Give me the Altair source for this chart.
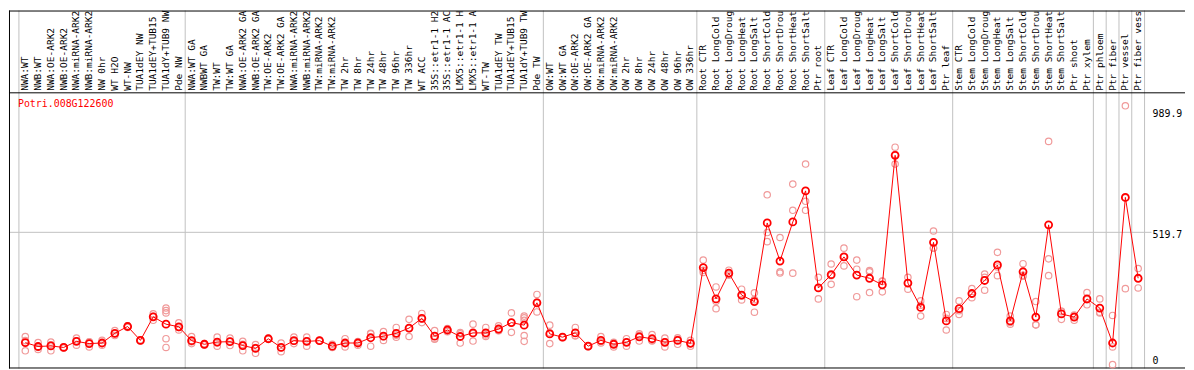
import altair as alt
import pandas as pd

gene = "Potri.008G122600"

labels = [
    "NWA:WT", "NWB:WT", "NWA:OE-ARK2", "NWB:OE-ARK2", "NWA:miRNA-ARK2", "NWB:miRNA-ARK2",
    "NW 0hr", "WT H2O", "WT-NW", "TUA1dEY NW", "TUA1dEY+TUB15", "TUA1dY+TUB9 NW", "Pde NW",
    "NWA:WT GA", "NWBWT GA", "TW:WT", "TW:WT GA", "NWA:OE-ARK2 GA", "NWB:OE-ARK2 GA",
    "TW:OE-ARK2", "TW:OE-ARK2 GA", "NWA:miRNA-ARK2", "NWB:miRNA-ARK2", "TW:miRNA-ARK2",
    "TW:miRNA-ARK2", "TW 2hr", "TW 8hr", "TW 24hr", "TW 48hr", "TW 96hr", "TW 336hr", "WT ACC",
    "35S::etr1-1 H2", "35S::etr1-1 AC", "LMX5::etr1-1 H", "LMX5::etr1-1 A", "WT-TW",
    "TUA1dEY TW", "TUA1dEY+TUB15", "TUA1dY+TUB9 TW", "Pde TW",
    "OW:WT", "OW:WT GA", "OW:OE-ARK2", "OW:OE-ARK2 GA", "OW:miRNA-ARK2", "OW:miRNA-ARK2",
    "OW 2hr", "OW 8hr", "OW 24hr", "OW 48hr", "OW 96hr", "OW 336hr",
    "Root CTR", "Root LongCold", "Root LongDroug", "Root LongHeat", "Root LongSalt",
    "Root ShortCold", "Root ShortDrou", "Root ShortHeat", "Root ShortSalt", "Ptr root",
    "Leaf CTR", "Leaf LongCold", "Leaf LongDroug", "Leaf LongHeat", "Leaf LongSalt",
    "Leaf ShortCold", "Leaf ShortDrou", "Leaf ShortHeat", "Leaf ShortSalt", "Ptr leaf",
    "Stem CTR", "Stem LongCold", "Stem LongDroug", "Stem LongHeat", "Stem LongSalt",
    "Stem ShortCold", "Stem ShortDrou", "Stem ShortHeat", "Stem ShortSalt", "Ptr shoot",
    "Ptr xylem", "Ptr phloem", "Ptr fiber", "Ptr vessel", "Ptr fiber vess",
]

group_sizes = [13, 28, 12, 10, 10, 11, 1, 1, 1, 1]

means = [
    90.9, 75.8, 78.1, 72.1, 95.8, 87.2, 89.4, 127.2, 153.6, 99.6, 191.3, 162.6, 152.5,
    98.5, 84.5, 93.2, 94.7, 79.6, 68.3, 106.0, 72.1, 98.5, 95.8, 98.5, 77.0, 89.4, 89.4,
    109.8, 115.8, 127.2, 147.5, 185.3, 115.8, 140.0, 114.7, 128.7, 128.7, 143.8, 168.7,
    158.9, 245.7,
    124.9, 112.1, 128.7, 77.0, 99.6, 84.5, 92.1, 113.6, 106.0, 92.1, 99.6, 88.3,
    382.6, 260.8, 361.1, 275.8, 250.6, 556.2, 407.9, 560.0, 680.8, 303.4,
    355.1, 424.2, 353.6, 341.1, 315.8, 819.2, 322.3, 227.9, 480.8, 175.1,
    223.0, 281.9, 332.5, 392.8, 175.1, 366.4, 190.2, 548.7, 202.6, 190.2, 260.8,
    225.3, 89.4, 655.5, 341.1,
]

replicates = [
    [114.7, 59.2, 98.8], [90.9, 64.5, 72.0], [93.2, 59.2, 82.0], [70.0, 74.0, 72.0],
    [108.3, 80.8, 98.0], [93.2, 74.3, 94.0], [99.6, 80.8, 88.0], [137.4, 118.5, 126.0],
    [156.2, 149.8, 155.0], [97.0, 100.0, 102.0], [202.6, 177.7, 193.0],
    [225.3, 215.5, 206.4, 106.0, 72.1], [167.5, 140.0, 150.0],
    [114.7, 87.2, 94.0], [82.0, 85.0, 87.0], [112.1, 77.0, 90.0], [108.3, 79.6, 96.0],
    [95.8, 59.2, 84.0], [83.4, 49.4, 72.0], [104.0, 106.0, 108.0], [89.4, 55.5, 71.0],
    [112.1, 87.2, 96.0], [112.1, 77.0, 98.0], [97.0, 99.0, 100.0], [84.5, 72.1, 74.0],
    [106.0, 74.3, 88.0], [80.8, 92.0, 95.0], [127.2, 77.0, 125.0], [133.6, 99.6, 114.0],
    [149.8, 112.1, 120.0], [181.5, 114.7, 146.0], [204.2, 168.7, 183.0],
    [137.4, 106.0, 104.0], [146.0, 133.6, 140.0], [124.9, 89.4, 130.0],
    [162.6, 97.0, 126.0], [149.8, 114.7, 121.0], [156.2, 137.4, 138.0],
    [206.4, 130.9, 169.0], [194.0, 187.5, 177.7, 118.5, 95.8], [278.1, 210.2, 249.0],
    [158.9, 87.2, 129.0], [110.0, 112.0, 114.0], [149.8, 118.0, 118.0], [75.0, 77.0, 79.0],
    [114.7, 89.4, 95.0], [87.2, 74.3, 92.0], [106.0, 77.0, 93.0], [124.9, 97.0, 119.0],
    [122.3, 97.0, 99.0], [108.3, 74.3, 94.0], [109.8, 84.5, 104.0], [99.6, 77.0, 88.0],
    [411.7, 363.8, 372.0], [307.2, 223.0, 252.0], [372.5, 357.4, 353.0],
    [298.5, 257.0, 272.0], [284.5, 209.1, 258.0], [665.7, 483.4, 519.0],
    [499.6, 366.4, 361.5], [707.2, 605.3, 361.1], [785.3, 640.4, 605.3],
    [344.9, 260.8, 304.0],
    [396.6, 317.4, 351.0], [458.1, 389.1, 425.0], [411.7, 376.2, 269.4],
    [366.4, 285.7, 371.0], [329.8, 288.3, 329.0], [850.6, 785.3, 822.0],
    [344.9, 298.5, 323.0], [253.2, 194.0, 236.0], [524.9, 458.1, 459.0],
    [200.4, 140.0, 185.0],
    [253.2, 200.4, 215.0], [300.8, 265.7, 279.0], [357.4, 294.7, 345.0],
    [441.9, 351.3, 385.0], [194.0, 162.6, 169.0], [397.7, 348.7, 353.0],
    [250.6, 160.0, 160.0], [873.2, 416.6, 351.3], [212.8, 181.5, 213.0],
    [197.7, 177.7, 195.0], [285.7, 238.1, 258.0],
    [260.8, 206.4, 209.0], [196.6, 74.3, 5.3], [1011.7, 300.8, 654.0], [378.9, 303.4, 341.0],
]

grid_values = [519.7]
tick_values_top = [519.7, 989.9]
tick_values_bottom = [0]

# ---------------- layout ----------------
W, H = 1186, 361
LEFT, COL = 10, 12.9
HEADER = 83
PX = 0.2594          # pixels per expression unit
Y0 = 358.5           # pixel row of value 0
LABEL_X = LEFT + COL * len(labels) + 8

x_dom = [-0.5 - LEFT / COL, (W - LEFT) / COL - 0.5]
y_dom = [-(H - Y0) / PX, Y0 / PX]
xs = alt.Scale(domain=x_dom, nice=False, zero=False)
ys = alt.Scale(domain=y_dom, nice=False, zero=False)

FONT = "DejaVu Sans Mono"

mean_df = pd.DataFrame({"idx": list(range(len(labels))), "label": labels, "mean": means})
rep_rows = []
for i, reps in enumerate(replicates):
    for v in reps:
        rep_rows.append({"idx": i, "val": v})
rep_df = pd.DataFrame(rep_rows)

bounds = [-0.5]
for g in group_sizes:
    bounds.append(bounds[-1] + g)
sep_df = pd.DataFrame({"b": bounds})

one = pd.DataFrame({"k": [0]})

X = lambda f: alt.X(f, scale=xs, axis=None)
Y = lambda f: alt.Y(f, scale=ys, axis=None)

separators = alt.Chart(sep_df).mark_rule(color="#c0c0c0", strokeWidth=1).encode(
    x=X("b:Q"), y=alt.value(0), y2=alt.value(H)
)
gridline = alt.Chart(pd.DataFrame({"v": grid_values})).mark_rule(
    color="#c0c0c0", strokeWidth=1
).encode(y=Y("v:Q"), x=alt.value(0), x2=alt.value(LABEL_X - 1))

top_border = alt.Chart(one).mark_rule(color="black", strokeWidth=1).encode(
    x=alt.value(0), x2=alt.value(W), y=alt.value(0.5)
)
header_line = alt.Chart(one).mark_rule(color="black", strokeWidth=1).encode(
    x=alt.value(0), x2=alt.value(W), y=alt.value(HEADER)
)
bottom_border = alt.Chart(one).mark_rule(color="black", strokeWidth=1).encode(
    x=alt.value(0), x2=alt.value(W), y=alt.value(H - 0.5)
)
left_border = alt.Chart(one).mark_rule(color="black", strokeWidth=1).encode(
    x=alt.value(0.5), y=alt.value(0), y2=alt.value(H)
)

header_text = alt.Chart(mean_df).mark_text(
    angle=270, align="left", baseline="middle", font=FONT, fontSize=9.6,
    color="black"
).encode(x=X("idx:Q"), y=alt.value(HEADER - 2), text="label:N")

title_text = alt.Chart(pd.DataFrame({"t": [gene]})).mark_text(
    align="left", baseline="middle", font=FONT, fontSize=10, color="#ff0000"
).encode(x=alt.value(9), y=alt.value(HEADER + 11), text="t:N")

rep_pts = alt.Chart(rep_df).mark_point(
    shape="circle", filled=False, color="#f09a9a", size=42, strokeWidth=1.2, opacity=1
).encode(x=X("idx:Q"), y=Y("val:Q"))

mean_line = alt.Chart(mean_df).mark_line(color="#ff0000", strokeWidth=1).encode(
    x=X("idx:Q"), y=Y("mean:Q"), order="idx:Q"
)
mean_pts = alt.Chart(mean_df).mark_point(
    shape="circle", filled=False, color="#ff0000", size=50, strokeWidth=1.8, opacity=1
).encode(x=X("idx:Q"), y=Y("mean:Q"))

ticks_top = alt.Chart(pd.DataFrame({"v": tick_values_top})).mark_text(
    align="left", baseline="middle", font=FONT, fontSize=10, color="black", dy=3
).encode(x=alt.value(LABEL_X), y=Y("v:Q"), text=alt.Text("v:Q", format=".1f"))
ticks_bottom = alt.Chart(pd.DataFrame({"v": tick_values_bottom})).mark_text(
    align="left", baseline="middle", font=FONT, fontSize=10, color="black", dy=-5
).encode(x=alt.value(LABEL_X), y=Y("v:Q"), text=alt.Text("v:Q", format="d"))

chart = alt.layer(
    separators, gridline, top_border, header_line, bottom_border, left_border,
    header_text, title_text, rep_pts, mean_line, mean_pts, ticks_top, ticks_bottom
).properties(width=W, height=H, padding=0, background="white").configure_view(stroke=None)

chart.save("out.html", embed_options={"renderer": "svg", "actions": False})
